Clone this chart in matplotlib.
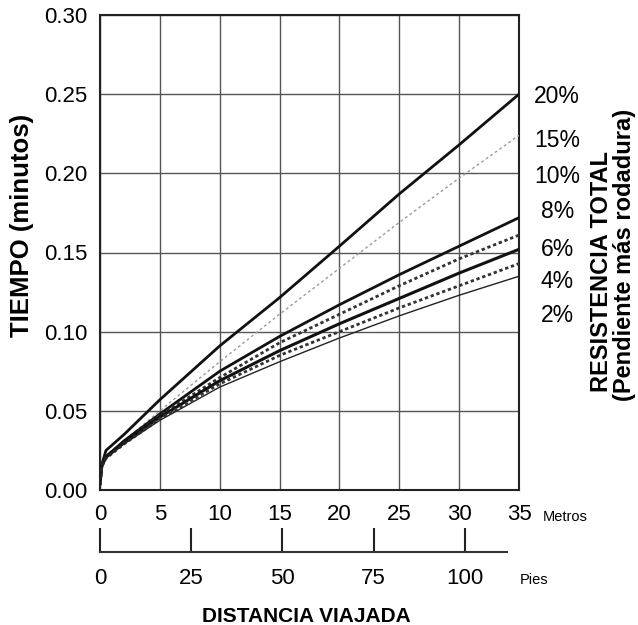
import matplotlib
matplotlib.use("Agg")
import matplotlib.pyplot as plt

plt.rcParams['font.family'] = ['Liberation Sans', 'DejaVu Sans']

# Data
dist_m = [0, 0.15, 0.5, 2, 5, 10, 15, 20, 25, 30, 35]
series_labels = ["20%", "15%", "10%", "8%", "6%", "4%", "2%"]
t20 = [0.004, 0.016, 0.025, 0.035, 0.057, 0.091, 0.1215, 0.154, 0.187, 0.218, 0.250]
t15 = [0.004, 0.015, 0.022, 0.031, 0.050, 0.081, 0.111, 0.140, 0.169, 0.197, 0.224]
t10 = [0.004, 0.015, 0.021, 0.031, 0.048, 0.075, 0.097, 0.117, 0.136, 0.154, 0.172]
t8 = [0.004, 0.015, 0.021, 0.030, 0.047, 0.071, 0.093, 0.111, 0.129, 0.146, 0.161]
t6 = [0.004, 0.015, 0.021, 0.030, 0.046, 0.069, 0.088, 0.105, 0.121, 0.137, 0.152]
t4 = [0.004, 0.015, 0.020, 0.029, 0.045, 0.067, 0.085, 0.100, 0.115, 0.129, 0.143]
t2 = [0.004, 0.015, 0.020, 0.029, 0.044, 0.065, 0.081, 0.096, 0.110, 0.123, 0.135]
series = [t20, t15, t10, t8, t6, t4, t2]
label_y = [0.2485, 0.2205, 0.198, 0.1756, 0.152, 0.132, 0.110]

x_ticks_m = [0, 5, 10, 15, 20, 25, 30, 35]
y_ticks = [0.00, 0.05, 0.10, 0.15, 0.20, 0.25, 0.30]
feet_ticks = [0, 25, 50, 75, 100]
M_PER_FT = 0.3048

styles = [
    dict(color='#111111', lw=2.0, ls='-'),
    dict(color='#9a9a9a', lw=1.0, ls=(0, (2.0, 2.0))),
    dict(color='#111111', lw=2.0, ls='-'),
    dict(color='#333333', lw=2.0, ls=(0, (1.2, 1.0))),
    dict(color='#111111', lw=2.2, ls='-'),
    dict(color='#333333', lw=2.0, ls=(0, (1.2, 1.0))),
    dict(color='#222222', lw=1.0, ls='-'),
]

fig = plt.figure(figsize=(6.38, 6.25), dpi=100)
ax = fig.add_axes([100/638, 1-490/625, 419/638, 475/625])

for ys, st in zip(series, styles):
    ax.plot(dist_m, ys, **st, zorder=3)

ax.set_xlim(0, 35)
ax.set_ylim(0, 0.30)
ax.set_xticks(x_ticks_m)
ax.set_yticks(y_ticks)
ax.set_xticklabels([str(v) for v in x_ticks_m], fontsize=16)
ax.set_yticklabels([f"{v:.2f}" for v in y_ticks], fontsize=16)
ax.tick_params(length=0, pad=9)
ax.tick_params(axis='x', pad=10)
ax.grid(True, color='#555555', lw=1.0)
for sp in ax.spines.values():
    sp.set_color('#222222')
    sp.set_linewidth(1.5)

fig.text(22/638, 1-225/625, "TIEMPO (minutos)", rotation=90, fontsize=18.5,
         fontweight='bold', ha='center', va='center')

# Right-hand labels
for lab, yv in zip(series_labels, label_y):
    ax.text(38.2, yv, lab, fontsize=16.5, ha='center', va='center', clip_on=False)

fig.text(601/638, 1-272/625, "RESISTENCIA TOTAL", rotation=90, fontsize=17,
         fontweight='bold', ha='center', va='center')
fig.text(625/638, 1-255/625, "(Pendiente más rodadura)", rotation=90, fontsize=17,
         fontweight='bold', ha='center', va='center')

fig.text(543/638, 1-517/625, "Metros", fontsize=10.5, ha='left', va='center')

# Feet scale
sec = ax.secondary_xaxis(-0.13, functions=(lambda m: m / M_PER_FT, lambda f: f * M_PER_FT))
sec.set_xticks(feet_ticks)
sec.set_xticklabels([str(v) for v in feet_ticks], fontsize=16)
sec.tick_params(direction='in', length=17, width=1.5, pad=12, color='#222222')
sec.spines['bottom'].set_linewidth(1.5)
sec.spines['bottom'].set_color('#333333')
sec.spines['bottom'].set_bounds(0, 34 / M_PER_FT)
fig.text(520/638, 1-580/625, "Pies", fontsize=10.5, ha='left', va='center')

fig.text(306/638, 1-616/625, "DISTANCIA VIAJADA", fontsize=15, fontweight='bold',
         ha='center', va='center')

fig.savefig("out.png", dpi=100)
